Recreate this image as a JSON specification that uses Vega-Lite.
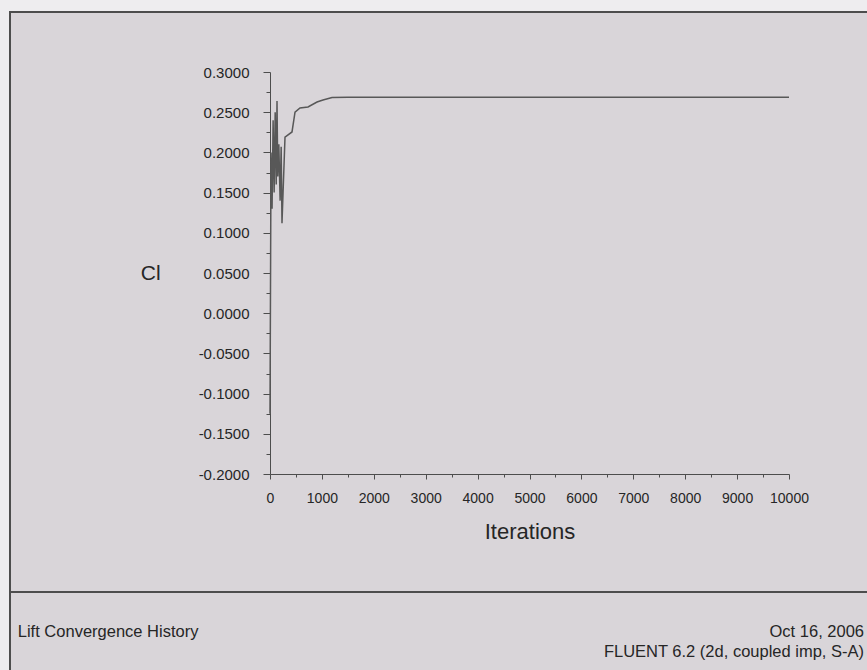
{
  "$schema": "https://vega.github.io/schema/vega-lite/v6.json",
  "description": "Lift convergence history: lift coefficient against solver iterations, with a report footer.",
  "autosize": {"type": "none"},
  "padding": {"left": 10, "top": 12, "right": -6, "bottom": -6},
  "width": 863,
  "height": 664,
  "background": "#eeedef",
  "config": {
    "view": {"fill": "#d9d5d9", "stroke": "#4d4d4d", "strokeWidth": 2},
    "font": "Liberation Sans",
    "axis": {"grid": false}
  },
  "layer": [
    {
      "data": {
        "values": [
          {"iteration": 0, "cl": -0.125},
          {"iteration": 20, "cl": 0.2},
          {"iteration": 40, "cl": 0.13},
          {"iteration": 60, "cl": 0.24},
          {"iteration": 80, "cl": 0.15},
          {"iteration": 100, "cl": 0.25},
          {"iteration": 120, "cl": 0.16},
          {"iteration": 135, "cl": 0.264},
          {"iteration": 150, "cl": 0.17},
          {"iteration": 170, "cl": 0.21},
          {"iteration": 195, "cl": 0.14},
          {"iteration": 215, "cl": 0.207},
          {"iteration": 231, "cl": 0.112},
          {"iteration": 289, "cl": 0.219},
          {"iteration": 424, "cl": 0.2254},
          {"iteration": 482, "cl": 0.25},
          {"iteration": 578, "cl": 0.2552},
          {"iteration": 732, "cl": 0.2565},
          {"iteration": 906, "cl": 0.2627},
          {"iteration": 1021, "cl": 0.2652},
          {"iteration": 1195, "cl": 0.2683},
          {"iteration": 1500, "cl": 0.2685},
          {"iteration": 3000, "cl": 0.2685},
          {"iteration": 6000, "cl": 0.2685},
          {"iteration": 10000, "cl": 0.2685}
        ]
      },
      "mark": {"type": "line", "color": "#585858", "strokeWidth": 1.5},
      "encoding": {
        "x": {
          "field": "iteration",
          "type": "quantitative",
          "scale": {"domain": [0, 10000], "range": [260, 779], "nice": false, "zero": false},
          "axis": {
            "orient": "bottom",
            "offset": -202,
            "values": [0, 500, 1000, 1500, 2000, 2500, 3000, 3500, 4000, 4500, 5000, 5500, 6000, 6500, 7000, 7500, 8000, 8500, 9000, 9500, 10000],
            "labelExpr": "datum.value % 1000 == 0 ? format(datum.value, 'd') : ''",
            "tickSize": {"condition": {"test": "datum.value % 1000 == 0", "value": 5}, "value": 3},
            "domainColor": "#4d4d4d",
            "tickColor": "#4d4d4d",
            "labelColor": "#262626",
            "labelFontSize": 14,
            "labelPadding": 12,
            "labelFlush": false,
            "title": "Iterations",
            "titleFontSize": 22,
            "titleFontWeight": "normal",
            "titleColor": "#262626",
            "titlePadding": 16
          }
        },
        "y": {
          "field": "cl",
          "type": "quantitative",
          "scale": {"domain": [-0.2, 0.3], "range": [462, 60], "nice": false, "zero": false},
          "axis": {
            "orient": "left",
            "offset": -260,
            "values": [-0.2, -0.175, -0.15, -0.125, -0.1, -0.075, -0.05, -0.025, 0, 0.025, 0.05, 0.075, 0.1, 0.125, 0.15, 0.175, 0.2, 0.225, 0.25, 0.275, 0.3],
            "labelExpr": "abs(round(datum.value * 1000)) % 50 == 0 ? replace(format(datum.value, '.4f'), '\u2212', '-') : ''",
            "tickSize": {"condition": {"test": "abs(round(datum.value * 1000)) % 50 == 0", "value": 7}, "value": 4},
            "domainColor": "#4d4d4d",
            "tickColor": "#4d4d4d",
            "labelColor": "#262626",
            "labelFontSize": 15,
            "labelPadding": 14,
            "labelFlush": false,
            "title": "Cl",
            "titleAngle": 0,
            "titleAlign": "right",
            "titleBaseline": "middle",
            "titleFontSize": 21,
            "titleFontWeight": "normal",
            "titleColor": "#262626",
            "titlePadding": 38
          }
        }
      }
    },
    {
      "data": {
        "values": [
          {"side": "left", "note": "Lift Convergence History"},
          {"side": "right", "note": "Oct 16, 2006\nFLUENT 6.2 (2d, coupled imp, S-A)"}
        ]
      },
      "layer": [
        {
          "mark": {"type": "rule", "color": "#4d4d4d", "strokeWidth": 2},
          "encoding": {
            "y": {"datum": 0.8735, "type": "quantitative", "scale": {"domain": [0, 1], "reverse": true}, "axis": null}
          }
        },
        {
          "transform": [{"filter": "datum.side == 'left'"}],
          "mark": {"type": "text", "align": "left", "baseline": "middle", "fontSize": 16.5, "color": "#262626"},
          "encoding": {
            "x": {"datum": 0.009, "type": "quantitative", "scale": {"domain": [0, 1]}, "axis": null},
            "y": {"datum": 0.9337, "type": "quantitative", "axis": null},
            "text": {"field": "note", "type": "nominal"}
          }
        },
        {
          "transform": [{"filter": "datum.side == 'right'"}],
          "mark": {"type": "text", "align": "right", "baseline": "middle", "fontSize": 16.5, "lineHeight": 20, "lineBreak": "\n", "color": "#262626"},
          "encoding": {
            "x": {"datum": 0.9896, "type": "quantitative", "axis": null},
            "y": {"datum": 0.9337, "type": "quantitative", "axis": null},
            "text": {"field": "note", "type": "nominal"}
          }
        }
      ]
    }
  ],
  "resolve": {"scale": {"x": "independent", "y": "independent"}}
}
